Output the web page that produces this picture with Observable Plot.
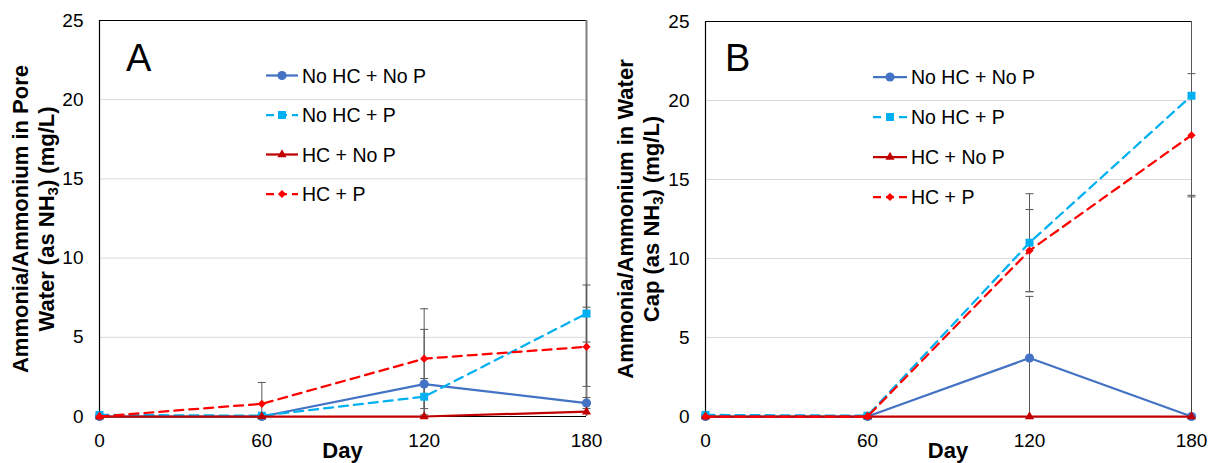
<!DOCTYPE html>
<html><head><meta charset="utf-8">
<script src="https://cdn.jsdelivr.net/npm/d3@7"></script>
<script src="https://cdn.jsdelivr.net/npm/@observablehq/plot@0.6"></script>
<style>
body{margin:0;background:#fff;}
#wrap{display:flex;width:1208px;height:463px;overflow:hidden;}
</style></head><body><div id="wrap"></div>
<script>
// ---- data ----
const days = [0, 60, 120, 180];
const yTicks = [0, 5, 10, 15, 20, 25];
const yGrid = [5, 10, 15, 20];
const xMax = 180, yMax = 25;
const seriesNames = ["No HC + No P", "No HC + P", "HC + No P", "HC + P"];
const seriesColors = ["#4472C4", "#00B0F0", "#C00000", "#FF0000"];
const seriesSymbols = ["circle", "square", "triangle", "diamond2"];
const seriesDashed = [false, true, false, true];

// Panel A: pore water
const poreNoHCNoP = [0, 0, 2.05, 0.85];
const poreNoHCP   = [0.1, 0.05, 1.25, 6.5];
const poreHCNoP   = [0, 0, 0, 0.3];
const poreHCP     = [0, 0.8, 3.65, 4.4];
const poreErrNoHCNoP = [0, 0, 3.45, 0.35];
const poreErrNoHCP   = [0, 0, 1.15, 1.8];
const poreErrHCNoP   = [0, 0, 0, 0];
const poreErrHCP     = [0, 1.35, 3.15, 2.5];

// Panel B: water cap
const capNoHCNoP = [0, 0, 3.7, 0];
const capNoHCP   = [0.1, 0.05, 11.0, 20.3];
const capHCNoP   = [0, 0, 0, 0];
const capHCP     = [0, 0, 10.5, 17.8];
const capErrNoHCNoP = [0, 0, 3.9, 0];
const capErrNoHCP   = [0, 0, 3.1, 6.3];
const capErrHCNoP   = [0, 0, 0, 0];
const capErrHCP     = [0, 0, 2.6, 3.9];

const capSymbol = { draw(ctx, size) { const w = Math.sqrt(size / Math.PI); ctx.moveTo(-w, 0); ctx.lineTo(w, 0); } };
const symbolR = { circle: 4.6, square: 4.5, triangle: 3.4, diamond2: 3.7 };
const d3Sym = { circle: d3.symbolCircle, square: d3.symbolSquare, triangle: d3.symbolTriangle, diamond2: d3.symbolDiamond2 };
const FONT = "Liberation Sans, Arial, sans-serif";

function panel(cfg) {
  const rows = [];
  cfg.values.forEach((vals, s) => vals.forEach((v, i) => rows.push({ day: days[i], value: v, err: cfg.errors[s][i], s })));
  const errRows = rows.filter(d => d.err > 0);
  const caps = [];
  errRows.forEach(d => {
    [d.value - d.err, d.value + d.err].forEach(y => { if (y >= 0 && y <= yMax) caps.push({ day: d.day, y }); });
  });
  const marks = [
    Plot.ruleY(yGrid, { stroke: "#D9D9D9", strokeWidth: 1 }),
    Plot.ruleY([yMax], { stroke: "#000", strokeWidth: 1 }),
    Plot.ruleX([xMax], { stroke: cfg.edgeColor, strokeWidth: cfg.edgeWidth }),
    Plot.ruleX(errRows, { x: "day", y1: d => Math.max(0, d.value - d.err), y2: d => Math.min(yMax, d.value + d.err), stroke: "#595959", strokeWidth: 1 }),
    Plot.dot(caps, { x: "day", y: "y", symbol: capSymbol, r: 4, stroke: "#595959", strokeWidth: 1, fill: "none" }),
    Plot.ruleY([0], { stroke: "#000", strokeWidth: 1.2 }),
    Plot.ruleX([0], { stroke: "#000", strokeWidth: 1.2 })
  ];
  seriesNames.forEach((name, s) => {
    const data = rows.filter(d => d.s === s);
    marks.push(Plot.line(data, { x: "day", y: "value", stroke: seriesColors[s], strokeWidth: 2.25, strokeDasharray: seriesDashed[s] ? "9,6" : null }));
    marks.push(Plot.dot(data, { x: "day", y: "value", symbol: seriesSymbols[s], r: symbolR[seriesSymbols[s]], fill: seriesColors[s], stroke: "none" }));
  });
  const chart = Plot.plot({
    width: 604, height: 463,
    marginLeft: cfg.marginLeft, marginRight: cfg.marginRight, marginTop: cfg.marginTop, marginBottom: 47,
    style: { fontSize: "19px", fontFamily: FONT, background: "white", color: "#000" },
    x: { domain: [0, xMax], ticks: days, tickSize: 0, tickPadding: 17, label: null },
    y: { domain: [0, yMax], ticks: yTicks, tickSize: 0, tickPadding: 16, label: null },
    marks
  });
  const svg = d3.select(chart);
  // panel letter
  svg.append("text").attr("x", cfg.letterX).attr("y", 71).attr("font-size", 38).attr("font-family", FONT)
    .attr("text-anchor", "start").attr("fill", "#000").text(cfg.letter);
  // legend
  seriesNames.forEach((name, s) => {
    const y = cfg.legY0 + s * cfg.legDy;
    svg.append("line").attr("x1", cfg.legX1).attr("x2", cfg.legX2).attr("y1", y).attr("y2", y)
      .attr("stroke", seriesColors[s]).attr("stroke-width", 2.25).attr("stroke-dasharray", seriesDashed[s] ? "8,5" : null);
    const r = symbolR[seriesSymbols[s]];
    svg.append("path").attr("d", d3.symbol(d3Sym[seriesSymbols[s]], Math.PI * r * r)())
      .attr("transform", `translate(${(cfg.legX1 + cfg.legX2) / 2},${y})`).attr("fill", seriesColors[s]);
    svg.append("text").attr("x", cfg.legX2 + 4).attr("y", y + 7).attr("font-size", 19.5).attr("font-family", FONT)
      .attr("text-anchor", "start").attr("fill", "#000").text(name);
  });
  // y label
  const g = svg.append("g").attr("transform", `translate(0,219) rotate(-90)`)
    .attr("font-family", FONT).attr("font-weight", "bold").attr("font-size", 22).attr("text-anchor", "middle").attr("fill", "#000");
  g.append("text").attr("x", 0).attr("y", cfg.lab1Y).text(cfg.label1);
  const t2 = g.append("text").attr("x", 0).attr("y", cfg.lab2Y);
  t2.append("tspan").text(cfg.label2a);
  t2.append("tspan").attr("font-size", 15).attr("dy", 4).text("3");
  t2.append("tspan").attr("dy", -4).text(") (mg/L)");
  // x label
  svg.append("text").attr("x", cfg.marginLeft + (604 - cfg.marginLeft - cfg.marginRight) / 2).attr("y", 458)
    .attr("text-anchor", "middle").attr("font-family", FONT).attr("font-weight", "bold").attr("font-size", 22).attr("fill", "#000").text("Day");
  return chart;
}

const wrap = document.getElementById("wrap");
wrap.appendChild(panel({
  values: [poreNoHCNoP, poreNoHCP, poreHCNoP, poreHCP],
  errors: [poreErrNoHCNoP, poreErrNoHCP, poreErrHCNoP, poreErrHCP],
  marginLeft: 99, marginRight: 18, marginTop: 20,
  edgeColor: "#7f7f7f", edgeWidth: 2,
  letter: "A", letterX: 126,
  legX1: 266, legX2: 298, legY0: 75.5, legDy: 39.5,
  lab1Y: 28, lab2Y: 54,
  label1: "Ammonia/Ammonium in Pore", label2a: "Water (as NH"
}));
wrap.appendChild(panel({
  values: [capNoHCNoP, capNoHCP, capHCNoP, capHCP],
  errors: [capErrNoHCNoP, capErrNoHCP, capErrHCNoP, capErrHCP],
  marginLeft: 101, marginRight: 17, marginTop: 21,
  edgeColor: "#404040", edgeWidth: 1,
  letter: "B", letterX: 121,
  legX1: 269, legX2: 303, legY0: 77, legDy: 40,
  lab1Y: 29, lab2Y: 55,
  label1: "Ammonia/Ammonium in Water", label2a: "Cap (as NH"
}));
</script></body></html>
